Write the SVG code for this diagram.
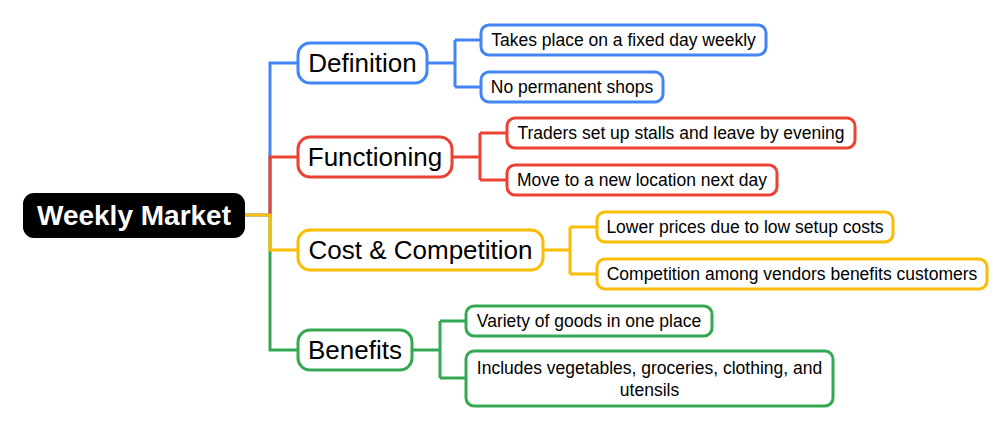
<svg xmlns="http://www.w3.org/2000/svg" width="999" height="424" viewBox="0 0 999 424">
<style>
.c{fill:none;stroke-width:3}
.n{fill:#fff;stroke-width:3}
.t{font-family:"Liberation Sans",Arial,sans-serif;fill:#000;text-anchor:middle;dominant-baseline:central}
.m{font-size:26px}.l{font-size:17.5px}
.b{stroke:#4285F4}.r{stroke:#EA4335}.y{stroke:#FBBC04}.g{stroke:#34A853}
</style>
<rect width="999" height="424" fill="#fff"/>
<g id="connectors">
<path class="c b" d="M245 215H270V63H298"/>
<path class="c r" d="M270 215V157H298"/>
<path class="c g" d="M270 215V350H298"/>
<path class="c y" d="M245 215H270V250H298"/>
<path class="c b" d="M427 63H455M455 40V87M455 40H481M455 87H481"/>
<path class="c r" d="M452 157H480M480 133V180M480 133H507M480 180H507"/>
<path class="c y" d="M543 250H570M570 227V274M570 227H597M570 274H597"/>
<path class="c g" d="M412 350H440M440 321V378M440 321H466M440 378H466"/>
</g>
<g id="root"><rect x="23" y="193" width="222" height="45" rx="11" fill="#000"/><text class="t" x="134" y="215.5" style="font-size:28px;font-weight:bold;fill:#fff">Weekly Market</text></g>
<g id="definition"><rect class="n b" x="298" y="43" width="129" height="40" rx="12"/><text class="t m" x="362.5" y="63">Definition</text></g>
<g id="functioning"><rect class="n r" x="298" y="137" width="154" height="40" rx="12"/><text class="t m" x="375" y="157">Functioning</text></g>
<g id="cost"><rect class="n y" x="298" y="230" width="245" height="40" rx="12"/><text class="t m" x="420.5" y="250">Cost &amp; Competition</text></g>
<g id="benefits"><rect class="n g" x="298" y="330" width="114" height="40" rx="12"/><text class="t m" x="355" y="350">Benefits</text></g>
<g id="d1"><rect class="n b" x="481" y="25" width="285" height="30" rx="8"/><text class="t l" x="623.5" y="40">Takes place on a fixed day weekly</text></g>
<g id="d2"><rect class="n b" x="481" y="72" width="182" height="30" rx="8"/><text class="t l" x="572" y="87">No permanent shops</text></g>
<g id="f1"><rect class="n r" x="507" y="118" width="348" height="30" rx="8"/><text class="t l" x="681" y="133">Traders set up stalls and leave by evening</text></g>
<g id="f2"><rect class="n r" x="507" y="165" width="270" height="30" rx="8"/><text class="t l" x="642" y="180">Move to a new location next day</text></g>
<g id="c1"><rect class="n y" x="597" y="212" width="296" height="30" rx="8"/><text class="t l" x="745" y="227">Lower prices due to low setup costs</text></g>
<g id="c2"><rect class="n y" x="597" y="259" width="390" height="30" rx="8"/><text class="t l" x="792" y="274">Competition among vendors benefits customers</text></g>
<g id="b1"><rect class="n g" x="466" y="306" width="246" height="30" rx="8"/><text class="t l" x="589" y="321">Variety of goods in one place</text></g>
<g id="b2"><rect class="n g" x="466" y="351" width="367" height="55" rx="8"/><text class="t l" x="649.5" y="368">Includes vegetables, groceries, clothing, and</text><text class="t l" x="649.5" y="390">utensils</text></g>
</svg>
